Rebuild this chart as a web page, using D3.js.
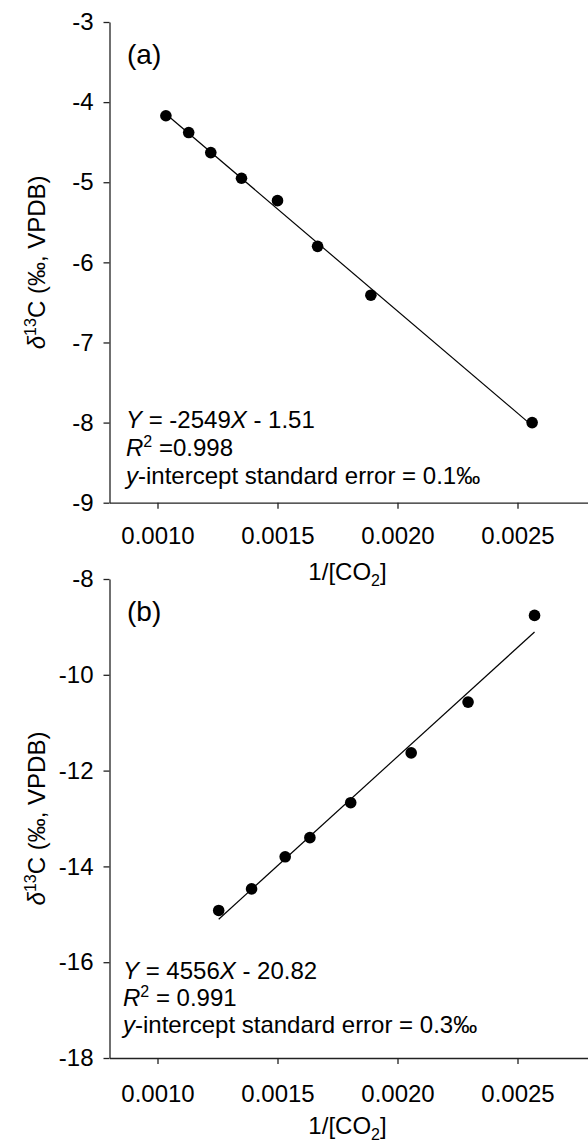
<!DOCTYPE html>
<html>
<head>
<meta charset="utf-8">
<script src="https://cdn.jsdelivr.net/npm/d3@7"></script>
<style>
  body { margin: 0; background: #fff; }
  svg { display: block; font-family: "Liberation Sans", Arial, sans-serif; }
</style>
</head>
<body>
<svg id="Chart"></svg>
<script>
// x axis ticks shared by both panels (1/[CO2])
let xTicks = [0.0010, 0.0015, 0.0020, 0.0025];

// panel (a)
let aX = [0.001035, 0.001130, 0.001222, 0.001350, 0.001500, 0.001667, 0.001889, 0.002561];
let aY = [-4.17, -4.38, -4.63, -4.95, -5.23, -5.80, -6.41, -8.00];
let aTicks = [-3, -4, -5, -6, -7, -8, -9];
let aFit = [-2549, -1.51]; // slope, intercept
let aText = ['-2549', '1.51', ' =0.998', '0.1'];

// panel (b)
let bX = [0.001255, 0.001392, 0.001532, 0.001635, 0.001805, 0.002057, 0.002294, 0.002571];
let bY = [-14.92, -14.47, -13.80, -13.40, -12.67, -11.63, -10.57, -8.76];
let bTicks = [-8, -10, -12, -14, -16, -18];
let bFit = [4556, -20.82];
let bText = ['4556', '20.82', ' = 0.991', '0.3'];

function getConfig() {
  let width = 588;
  let height = 1145;
  let container = d3.select('#Chart').attr('width', width).attr('height', height);
  let xLeft = 109.5;
  let xRight = 589.5;
  return { width, height, container, xLeft, xRight };
}

function drawPanel(config, p) {
  let { container, xLeft, xRight } = config;
  let xScale = d3.scaleLinear().domain([0.0008, 0.0028]).range([xLeft, xRight]);
  let yScale = d3.scaleLinear().domain(p.yDomain).range(p.yRange);
  let bottom = p.yRange[0];

  let g = container.append('g');

  // axes
  let axisX = d3.axisBottom(xScale).tickValues(xTicks).tickFormat(d3.format('.4f'))
    .tickSize(6).tickSizeOuter(0).tickPadding(p.xPad);
  let gx = g.append('g').attr('transform', `translate(0,${bottom})`).call(axisX);

  let axisY = d3.axisLeft(yScale).tickValues(p.ticks).tickFormat(d => d)
    .tickSize(6).tickSizeOuter(0).tickPadding(10);
  let gy = g.append('g').attr('transform', `translate(${xLeft},0)`).call(axisY);

  [gx, gy].forEach(a => {
    a.selectAll('text').attr('font-size', 24).attr('fill', '#000')
      .attr('font-family', '"Liberation Sans", Arial, sans-serif');
    a.selectAll('path, line').attr('stroke', '#222').attr('stroke-width', 1.3);
  });

  // regression line from first to last point
  let x0 = d3.min(p.xs), x1 = d3.max(p.xs);
  g.append('line')
    .attr('x1', xScale(x0)).attr('y1', yScale(p.fit[0] * x0 + p.fit[1]))
    .attr('x2', xScale(x1)).attr('y2', yScale(p.fit[0] * x1 + p.fit[1]))
    .attr('stroke', '#000').attr('stroke-width', 1.2);

  // points
  g.selectAll('circle').data(p.xs.map((x, i) => [x, p.ys[i]]))
    .enter().append('circle')
    .attr('cx', d => xScale(d[0]))
    .attr('cy', d => yScale(d[1]))
    .attr('r', 5.8)
    .attr('fill', '#000');

  // panel tag
  g.append('text').attr('x', 127).attr('y', p.tagY).attr('font-size', 28).text(p.tag);

  // equation block
  let tx = p.textX;
  let t1 = g.append('text').attr('x', tx).attr('y', p.lines[0]).attr('font-size', 24);
  t1.append('tspan').attr('font-style', 'italic').text('Y');
  t1.append('tspan').text(' = ' + p.text[0]);
  t1.append('tspan').attr('font-style', 'italic').text('X');
  t1.append('tspan').text(' - ' + p.text[1]);

  let t2 = g.append('text').attr('x', tx).attr('y', p.lines[1]).attr('font-size', 24);
  t2.append('tspan').attr('font-style', 'italic').text('R');
  t2.append('tspan').attr('font-size', 16).attr('dy', -9).text('2');
  t2.append('tspan').attr('dy', 9).text(p.text[2]);

  let t3 = g.append('text').attr('x', tx).attr('y', p.lines[2]).attr('font-size', 24);
  t3.append('tspan').attr('font-style', 'italic').text('y');
  t3.append('tspan').text('-intercept standard error = ' + p.text[3] + '\u2030');

  // x title
  let xt = g.append('text').attr('x', (xLeft + xRight) / 2 - 2).attr('y', p.xTitleY)
    .attr('text-anchor', 'middle').attr('font-size', 24);
  xt.append('tspan').text('1/[CO');
  xt.append('tspan').attr('font-size', 16).attr('dy', 6).text('2');
  xt.append('tspan').attr('dy', -6).text(']');

  // y title
  let cy = (p.yRange[0] + p.yRange[1]) / 2;
  let yt = g.append('text').attr('transform', `translate(45,${cy}) rotate(-90)`)
    .attr('text-anchor', 'middle').attr('font-size', 24);
  yt.append('tspan').attr('font-style', 'italic').text('\u03b4');
  yt.append('tspan').attr('font-size', 16).attr('dy', -9).text('13');
  yt.append('tspan').attr('dy', 9).text('C (\u2030, VPDB)');
}

let config = getConfig();
drawPanel(config, {
  xs: aX, ys: aY, fit: aFit, text: aText, ticks: aTicks,
  yDomain: [-9, -3], yRange: [502.7, 22],
  xPad: 18, xTitleY: 580, tag: '(a)', tagY: 64, lines: [428, 456, 484], textX: 126
});
drawPanel(config, {
  xs: bX, ys: bY, fit: bFit, text: bText, ticks: bTicks,
  yDomain: [-18, -8], yRange: [1058, 579],
  xPad: 21, xTitleY: 1134, tag: '(b)', tagY: 621, lines: [979, 1006, 1033], textX: 123
});
</script>
</body>
</html>
